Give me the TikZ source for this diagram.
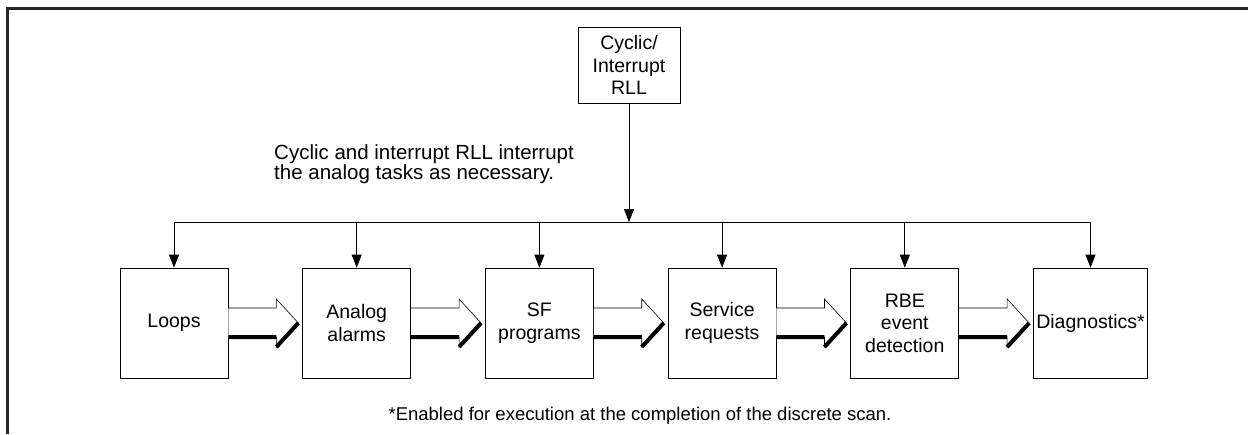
\documentclass[tikz,border=0pt]{standalone}
\usepackage{fontspec}
\setmainfont{Liberation Sans}
\usetikzlibrary{calc,positioning,arrows.meta}
\newcommand{\boxw}{108pt}
\newcommand{\boxh}{110pt}
\tikzset{
    framesty/.style={line width=3pt, draw=black!85, line join=miter},
    tasksty/.style={draw, line width=0.7pt, rectangle, minimum width=\boxw, minimum height=\boxh, align=center, inner sep=2pt, font=\fontsize{19.5}{22.5}\selectfont},
    rllsty/.style={draw, line width=0.7pt, rectangle, minimum width=102pt, minimum height=76pt, align=center, inner sep=2pt, font=\fontsize{19.5}{22.5}\selectfont},
    notesty/.style={align=left, inner sep=0pt, font=\fontsize{20.5}{20.5}\selectfont},
    footsty/.style={inner sep=0pt, font=\fontsize{18.5}{20}\selectfont},
    linesty/.style={line width=0.7pt},
    dropsty/.style={linesty, -{Triangle[length=13pt,width=10pt]}},
    hollowsty/.style={draw, fill=white, line width=0.6pt},
    shadowsty/.style={line width=4pt},
}
% hollow shift arrow from box #1 to box #2
\newcommand{\fatarrow}[2]{%
  \draw[hollowsty] let \p1=(#1.east), \p2=($(#2.west)+(-4pt,0pt)$) in
    (\x1,\y1+15pt) -- (\x2-22pt,\y1+15pt) -- (\x2-22pt,\y1+24pt) -- (\p2)
    -- (\x2-22pt,\y1-24pt) -- (\x2-22pt,\y1-14pt) -- (\x1,\y1-14pt);
  \draw[shadowsty] let \p1=(#1.east), \p2=($(#2.west)+(-4pt,0pt)$) in
    (\x1,\y1-14pt) -- (\x2-22pt,\y1-14pt)
    (\x2-22pt,\y1-24pt) -- (\p2);
}
\begin{document}
\begin{tikzpicture}[x=1pt,y=-1pt]
\useasboundingbox (0,0) rectangle (1248,434);
\draw[framesty] (7,434) -- (7,8) -- (1248,8);

\node[rllsty] (rll) at (629,65) {Cyclic/\\Interrupt\\RLL};
\node[notesty, anchor=west] (note) at (274,164) {Cyclic and interrupt RLL interrupt\\the analog tasks as necessary.};
\coordinate (bus) at (629,222);

\node[tasksty] (loops) at (174,323) {Loops};
\node[tasksty, right=74pt of loops] (alarms) {Analog\\alarms};
\node[tasksty, right=74pt of alarms] (sfprog) {SF\\programs};
\node[tasksty, right=74pt of sfprog] (service) {Service\\requests};
\node[tasksty, right=74pt of service] (rbe) {RBE\\event\\detection};
\node[tasksty, right=74pt of rbe, minimum width=114pt] (diag) {Diagnostics*};

\draw[dropsty] (rll) -- (bus);
\draw[linesty] (loops |- bus) -- (diag |- bus);
\foreach \t in {loops,alarms,sfprog,service,rbe,diag}
  \draw[dropsty] (\t |- bus) -- (\t.north);

\fatarrow{loops}{alarms}
\fatarrow{alarms}{sfprog}
\fatarrow{sfprog}{service}
\fatarrow{service}{rbe}
\fatarrow{rbe}{diag}

\node[footsty] (foot) at (640,416) {*Enabled for execution at the completion of the discrete scan.};
\end{tikzpicture}
\end{document}
